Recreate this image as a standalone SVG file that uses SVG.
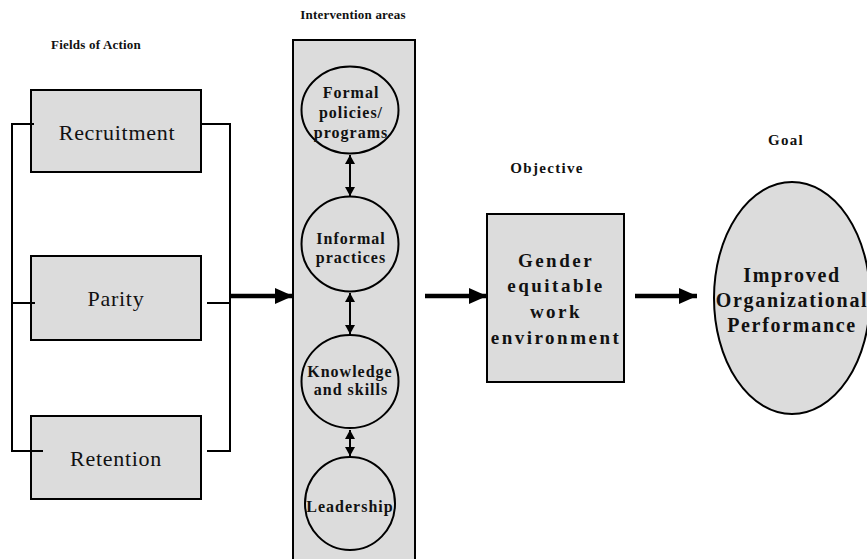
<svg xmlns="http://www.w3.org/2000/svg" width="867" height="559" viewBox="0 0 867 559">
<style>
.box{fill:#dcdcdc;stroke:#000;stroke-width:2}
.ln{fill:none;stroke:#000;stroke-width:2}
.thick{fill:none;stroke:#000;stroke-width:4.5}
.thin{fill:none;stroke:#000;stroke-width:2}
.reg{font-family:"Liberation Serif",serif;font-size:22px;letter-spacing:0.7px;text-anchor:middle;fill:#111}
.hdr{font-family:"Liberation Serif",serif;font-weight:bold;font-size:13px;letter-spacing:0.2px;text-anchor:middle;fill:#111}
.hdr2{font-family:"Liberation Serif",serif;font-weight:bold;font-size:15px;letter-spacing:1.3px;text-anchor:middle;fill:#111}
.cir{font-family:"Liberation Serif",serif;font-weight:bold;font-size:16px;letter-spacing:1px;text-anchor:middle;fill:#111}
.big{font-family:"Liberation Serif",serif;font-weight:bold;font-size:19px;letter-spacing:2.5px;text-anchor:middle;fill:#111}
.goal{font-family:"Liberation Serif",serif;font-weight:bold;font-size:20px;letter-spacing:1.7px;text-anchor:middle;fill:#111}
</style>
<defs>
<marker id="big" markerUnits="userSpaceOnUse" markerWidth="18" markerHeight="16" refX="18" refY="8" orient="auto">
<path d="M0,0 L18,8 L0,16 Z" fill="#000"/>
</marker>
<marker id="sm" markerUnits="userSpaceOnUse" markerWidth="10" markerHeight="10" refX="9" refY="5" orient="auto-start-reverse">
<path d="M0,0 L9,5 L0,10 Z" fill="#000"/>
</marker>
</defs>

<text class="hdr" x="96" y="49">Fields of Action</text>
<text class="hdr" x="353" y="19">Intervention areas</text>
<text class="hdr2" x="547" y="173">Objective</text>
<text class="hdr2" x="786" y="145">Goal</text>

<g id="intervention-areas">
<rect class="box" x="293" y="40" width="122" height="525"/>
</g>

<g id="recruitment">
<rect class="box" x="31" y="90" width="170" height="82"/>
<text class="reg" x="117" y="140">Recruitment</text>
</g>
<g id="parity">
<rect class="box" x="31" y="256" width="170" height="84"/>
<text class="reg" x="116" y="306">Parity</text>
</g>
<g id="retention">
<rect class="box" x="31" y="416" width="170" height="83"/>
<text class="reg" x="116" y="466">Retention</text>
</g>

<g id="formal">
<ellipse class="box" cx="350" cy="110" rx="48.5" ry="43.5"/>
<text class="cir" x="351" y="98">Formal</text>
<text class="cir" x="351" y="118">policies/</text>
<text class="cir" x="351" y="138">programs</text>
</g>
<g id="informal">
<ellipse class="box" cx="350" cy="244" rx="48.5" ry="47.5"/>
<text class="cir" x="351" y="244">Informal</text>
<text class="cir" x="351" y="263">practices</text>
</g>
<g id="knowledge">
<ellipse class="box" cx="350" cy="381.5" rx="48.5" ry="46.5"/>
<text class="cir" x="350" y="377">Knowledge</text>
<text class="cir" x="351" y="395">and skills</text>
</g>
<g id="leadership">
<ellipse class="box" cx="350" cy="503.5" rx="45" ry="46.5"/>
<text class="cir" x="350" y="512">Leadership</text>
</g>

<g id="objective">
<rect class="box" x="487" y="214" width="137" height="168"/>
<text class="big" x="556" y="267">Gender</text>
<text class="big" x="556" y="292">equitable</text>
<text class="big" x="556" y="318">work</text>
<text class="big" x="556" y="344">environment</text>
</g>

<g id="goal">
<ellipse class="box" cx="792" cy="298" rx="78" ry="116"/>
<text class="goal" x="792" y="282">Improved</text>
<text class="goal" x="792" y="307">Organizational</text>
<text class="goal" x="792" y="332">Performance</text>
</g>

<g id="connectors">
<path class="ln" d="M34,124 H12 V451 H43 M12,303 H35"/>
<path class="ln" d="M200,124 H230 V451 H207 M207,303 H230"/>
<line class="thick" x1="230" y1="296" x2="293" y2="296" marker-end="url(#big)"/>
<line class="thick" x1="425" y1="296" x2="487" y2="296" marker-end="url(#big)"/>
<line class="thick" x1="635" y1="296" x2="697" y2="296" marker-end="url(#big)"/>
<line class="thin" x1="350" y1="155" x2="350" y2="196" marker-start="url(#sm)" marker-end="url(#sm)"/>
<line class="thin" x1="350" y1="293" x2="350" y2="334" marker-start="url(#sm)" marker-end="url(#sm)"/>
<line class="thin" x1="350" y1="430" x2="350" y2="456" marker-start="url(#sm)" marker-end="url(#sm)"/>
</g>
</svg>
